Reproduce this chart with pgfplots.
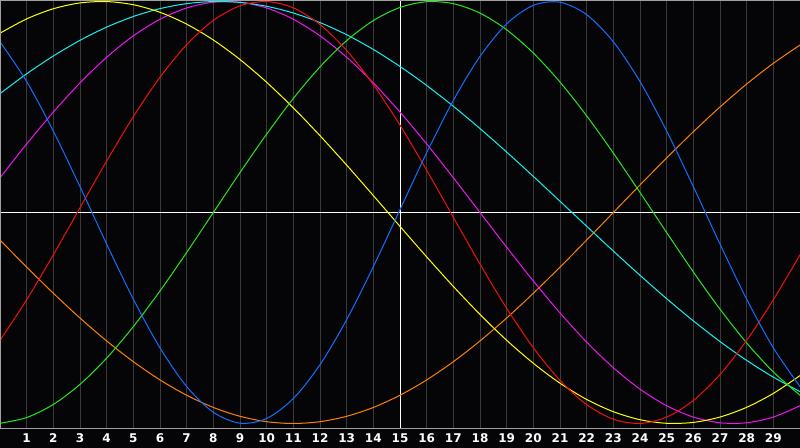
\documentclass[border=0pt]{standalone}
\usepackage{pgfplots}
\pgfplotsset{compat=1.18}
\usepackage{fontspec}
\setmainfont{DejaVu Sans}
\definecolor{bg}{RGB}{5,5,8}
\definecolor{gridgray}{RGB}{58,58,58}
\definecolor{axisgray}{RGB}{160,160,160}
\definecolor{cblue}{RGB}{20,110,255}
\definecolor{cred}{RGB}{240,16,16}
\definecolor{cgreen}{RGB}{40,230,30}
\definecolor{cyellow}{RGB}{255,255,0}
\definecolor{cmag}{RGB}{240,20,240}
\definecolor{ccyan}{RGB}{20,240,240}
\definecolor{corange}{RGB}{255,128,0}
\begin{document}
\begin{tikzpicture}
\useasboundingbox (0,0) rectangle (400bp,224bp);
\fill[bg] (0,0) rectangle (400bp,224bp);
\begin{axis}[
  at={(0,10bp)}, anchor=south west,
  scale only axis, width=400bp, height=214bp,
  xmin=0, xmax=30, ymin=-1.0213, ymax=1.0071,
  axis background/.style={fill=bg},
  axis line style={draw=none},
  /pgf/number format/assume math mode=true,
  xtick={1,2,3,4,5,6,7,8,9,10,11,12,13,14,16,17,18,19,20,21,22,23,24,25,26,27,28,29},
  ytick=\empty,
  major tick length=0pt,
  xmajorgrids,
  major grid style={gridgray, line width=0.5bp},
  extra x ticks={15},
  extra x tick labels={15},
  extra x tick style={major grid style={white, line width=0.5bp}},
  extra y ticks={0},
  extra y tick labels={},
  extra y tick style={ymajorgrids=true, major grid style={white, line width=0.5bp}},
  xticklabel style={font=\bfseries\fontsize{6bp}{7bp}\selectfont, text=white, anchor=base, inner sep=0pt, yshift=-7.4bp},
  every axis plot/.append style={line width=0.5bp, smooth, no marks},
]
% orange (P=48)
\addplot[corange] coordinates {(0,-0.1305)(1,-0.2588)(2,-0.3827)(3,-0.5)(4,-0.6088)(5,-0.7071)(6,-0.7934)(7,-0.8660)(8,-0.9239)(9,-0.9659)(10,-0.9914)(11,-1)(12,-0.9914)(13,-0.9659)(14,-0.9239)(15,-0.8660)(16,-0.7934)(17,-0.7071)(18,-0.6088)(19,-0.5)(20,-0.3827)(21,-0.2588)(22,-0.1305)(23,0)(24,0.1305)(25,0.2588)(26,0.3827)(27,0.5)(28,0.6088)(29,0.7071)(30,0.7934)};
% magenta (P=38)
\addplot[cmag] coordinates {(0,0.1646)(1,0.3247)(2,0.4759)(3,0.6142)(4,0.7357)(5,0.8372)(6,0.9158)(7,0.9694)(8,0.9966)(9,0.9966)(10,0.9694)(11,0.9158)(12,0.8372)(13,0.7357)(14,0.6142)(15,0.4759)(16,0.3247)(17,0.1646)(18,0)(19,-0.1646)(20,-0.3247)(21,-0.4759)(22,-0.6142)(23,-0.7357)(24,-0.8372)(25,-0.9158)(26,-0.9694)(27,-0.9966)(28,-0.9966)(29,-0.9694)(30,-0.9158)};
% cyan (P=53)
\addplot[ccyan] coordinates {(0,0.5635)(1,0.6573)(2,0.7417)(3,0.8159)(4,0.8786)(5,0.9289)(6,0.9662)(7,0.9899)(8,0.9997)(9,0.9955)(10,0.9773)(11,0.9454)(12,0.9002)(13,0.8424)(14,0.7726)(15,0.6921)(16,0.6020)(17,0.5035)(18,0.3977)(19,0.2864)(20,0.1711)(21,0.0534)(22,-0.0652)(23,-0.1827)(24,-0.2977)(25,-0.4085)(26,-0.5136)(27,-0.6116)(28,-0.7009)(29,-0.7803)(30,-0.8488)};
% yellow (P=43)
\addplot[cyellow] coordinates {(0,0.8498)(1,0.9175)(2,0.9656)(3,0.9932)(4,0.9996)(5,0.9847)(6,0.9488)(7,0.8927)(8,0.8175)(9,0.7250)(10,0.6170)(11,0.4958)(12,0.3641)(13,0.2246)(14,0.0802)(15,-0.0657)(16,-0.2103)(17,-0.3504)(18,-0.4830)(19,-0.6055)(20,-0.7146)(21,-0.8090)(22,-0.8860)(23,-0.9440)(24,-0.9820)(25,-0.9990)(26,-0.9948)(27,-0.9693)(28,-0.9232)(29,-0.8573)(30,-0.7730)};
% green (P=33)
\addplot[cgreen] coordinates {(0,-0.9989)(1,-0.9718)(2,-0.9096)(3,-0.8146)(4,-0.6901)(5,-0.5407)(6,-0.3717)(7,-0.1893)(8,0)(9,0.1893)(10,0.3717)(11,0.5407)(12,0.6901)(13,0.8146)(14,0.9096)(15,0.9718)(16,0.9989)(17,0.9898)(18,0.9450)(19,0.8660)(20,0.7557)(21,0.6182)(22,0.4582)(23,0.2817)(24,0.0950)(25,-0.0950)(26,-0.2817)(27,-0.4582)(28,-0.6182)(29,-0.7557)(30,-0.8660)};
% red (P=28)
\addplot[cred] coordinates {(0,-0.6060)(1,-0.4136)(2,-0.2006)(3,0.0225)(4,0.2443)(5,0.4540)(6,0.6410)(7,0.7955)(8,0.9105)(9,0.9797)(10,0.9997)(11,0.9697)(12,0.8910)(13,0.7678)(14,0.6060)(15,0.4136)(16,0.2006)(17,-0.0225)(18,-0.2443)(19,-0.4540)(20,-0.6410)(21,-0.7955)(22,-0.9105)(23,-0.9797)(24,-0.9997)(25,-0.9697)(26,-0.8910)(27,-0.7678)(28,-0.6060)(29,-0.4136)(30,-0.2006)};
% blue (P=23)
\addplot[cblue] coordinates {(0,0.8090)(1,0.6206)(2,0.3859)(3,0.1226)(4,-0.1497)(5,-0.4109)(6,-0.6416)(7,-0.8247)(8,-0.9468)(9,-0.9985)(10,-0.9762)(11,-0.8815)(12,-0.7215)(13,-0.5077)(14,-0.2566)(15,0.0136)(16,0.2830)(17,0.5313)(18,0.7398)(19,0.8941)(20,0.9818)(21,0.9966)(22,0.9376)(23,0.8090)(24,0.6206)(25,0.3859)(26,0.1226)(27,-0.1497)(28,-0.4109)(29,-0.6416)(30,-0.8247)};
\end{axis}
\draw[axisgray, line width=0.5bp] (0,223.75bp) -- (400bp,223.75bp);
\draw[axisgray, line width=0.5bp] (0.25bp,10bp) -- (0.25bp,224bp);
\draw[axisgray, line width=0.5bp] (0,9.75bp) -- (400bp,9.75bp);
\end{tikzpicture}
\end{document}
